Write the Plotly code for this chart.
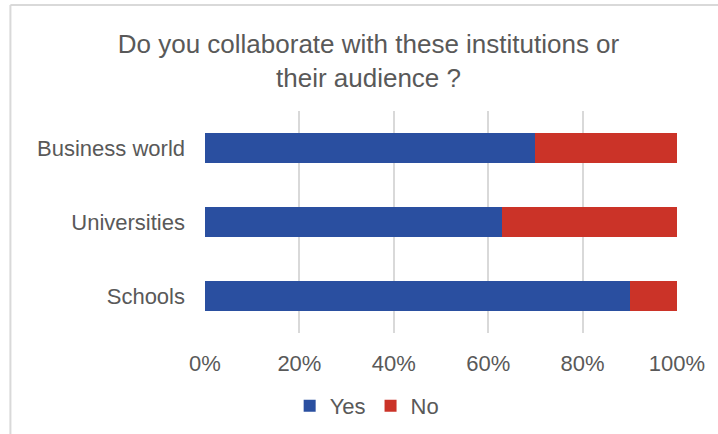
import plotly.graph_objects as go

categories = ["Schools", "Universities", "Business world"]
yes_values = [0.90, 0.63, 0.70]
no_values = [0.10, 0.37, 0.30]
tick_vals = [0, 0.2, 0.4, 0.6, 0.8, 1.0]
tick_text = ["0%", "20%", "40%", "60%", "80%", "100%"]

BLUE = "#2A4FA0"
RED = "#CB3328"
TXT = "#595959"
FONT = "Liberation Sans, Arial, sans-serif"

fig = go.Figure()
fig.add_trace(go.Bar(y=categories, x=yes_values, orientation="h", name="Yes",
                     marker=dict(color=BLUE, line=dict(width=0))))
fig.add_trace(go.Bar(y=categories, x=no_values, orientation="h", name="No",
                     marker=dict(color=RED, line=dict(width=0))))

W, H = 718, 434
L, R, T, B = 204.5, W - 677.5, 111, H - 333
pw = W - L - R
ph = H - T - B

fig.update_layout(
    width=W, height=H,
    barmode="stack",
    bargap=0.6,
    margin=dict(l=L, r=R, t=T, b=B, autoexpand=False),
    paper_bgcolor="white",
    plot_bgcolor="white",
    font=dict(family=FONT, color=TXT, size=22),
    title=dict(text="Do you collaborate with these institutions or<br>their audience ?",
               x=368.5 / W, xanchor="center", xref="container",
               y=1 - 53 / H, yanchor="middle", yref="container",
               font=dict(size=26, color=TXT, family=FONT)),
    xaxis=dict(range=[0, 1], tickvals=tick_vals, ticktext=tick_text,
               showgrid=True, gridcolor="#D9D9D9", gridwidth=1.5,
               zeroline=False, showline=False, ticks="",
               ticklabelstandoff=15,
               tickfont=dict(size=22, color=TXT), fixedrange=True),
    yaxis=dict(showgrid=False, zeroline=False, showline=False, ticks="",
               ticklabelstandoff=19,
               tickfont=dict(size=22, color=TXT)),
    legend=dict(orientation="h", x=(367 - L) / pw, xanchor="center",
                y=(H - B - 406) / ph, yanchor="middle",
                font=dict(size=22, color=TXT), itemwidth=30,
                traceorder="normal"),
    showlegend=True,
)

# chart frame (top and left edges visible in the crop)
fig.add_shape(type="line", xref="paper", yref="paper",
              x0=(9.5 - L) / pw, x1=(W - L) / pw + 0.1, y0=(H - B - 5) / ph, y1=(H - B - 5) / ph,
              line=dict(color="#D9D9D9", width=2))
fig.add_shape(type="line", xref="paper", yref="paper",
              x0=(9.5 - L) / pw, x1=(9.5 - L) / pw, y0=(H - B - 5) / ph, y1=-1,
              line=dict(color="#D9D9D9", width=2))

fig.write_html("out.html", config={"displayModeBar": False},
               post_script="document.body.style.margin='0px';")
